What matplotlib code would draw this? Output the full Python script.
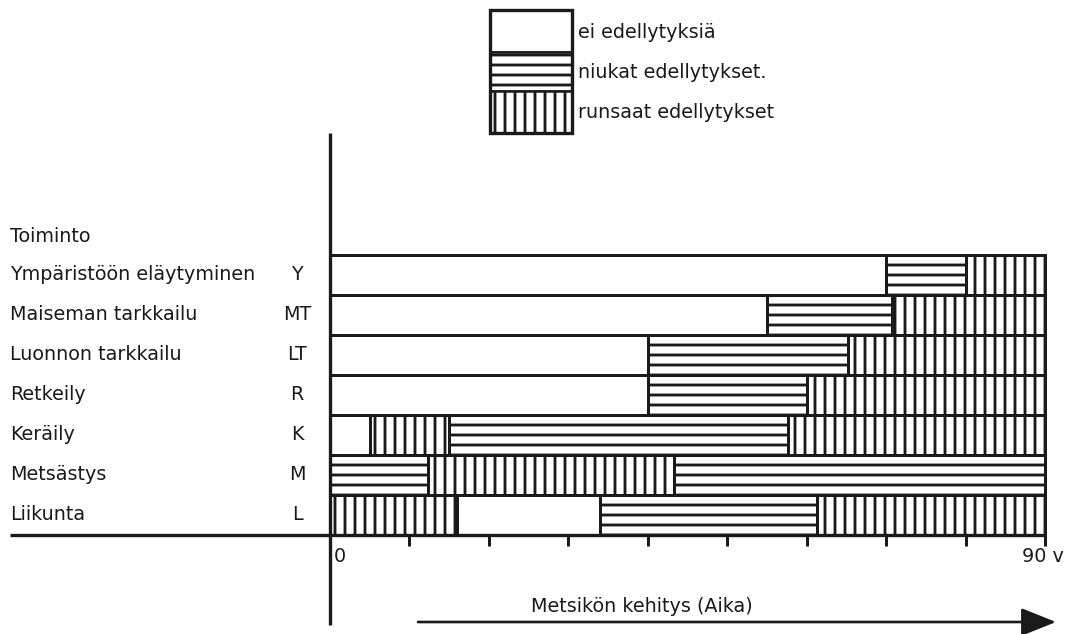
import matplotlib
matplotlib.use("Agg")
import matplotlib.pyplot as plt
from matplotlib.patches import Rectangle

plt.rcParams['font.family'] = ['DejaVu Sans']
plt.rcParams['hatch.linewidth'] = 1.7
plt.rcParams['hatch.color'] = '#1a1a1a'

INK = '#1a1a1a'

# ---------------- data ----------------
activities = ["Liikunta", "Metsästys", "Keräily", "Retkeily",
              "Luonnon tarkkailu", "Maiseman tarkkailu", "Ympäristöön eläytyminen"]
codes = ["L", "M", "K", "R", "LT", "MT", "Y"]

# segment breakpoints (years) and level of each segment
# level 0 = ei edellytyksiä, 1 = niukat, 2 = runsaat
L_breaks = [0, 16, 34, 61.3, 90];   L_levels = [2, 0, 1, 2]
M_breaks = [0, 12.3, 43.3, 90];     M_levels = [1, 2, 1]
K_breaks = [0, 5, 15, 57.7, 90];    K_levels = [0, 2, 1, 2]
R_breaks = [0, 40, 60, 90];         R_levels = [0, 1, 2]
LT_breaks = [0, 40, 65.2, 90];      LT_levels = [0, 1, 2]
MT_breaks = [0, 55, 70.8, 90];      MT_levels = [0, 1, 2]
Y_breaks = [0, 70, 80, 90];         Y_levels = [0, 1, 2]

row_breaks = [L_breaks, M_breaks, K_breaks, R_breaks, LT_breaks, MT_breaks, Y_breaks]
row_levels = [L_levels, M_levels, K_levels, R_levels, LT_levels, MT_levels, Y_levels]

legend_labels = ["ei edellytyksiä", "niukat edellytykset.", "runsaat edellytykset"]
level_hatches = ['', '--', '||']

x_ticks = [10, 20, 30, 40, 50, 60, 70, 80, 90]
x_label_start = "0"
x_label_end = "90 v"
header = "Toiminto"
arrow_label = "Metsikön kehitys (Aika)"

# ---------------- layout ----------------
W, H, DPI = 1067, 634, 120
X0PX, X90PX = 330, 1045
BASEPX = 535
ROWPX = 40
PPY = (X90PX - X0PX) / 90.0


def px2x(px):
    return (px - X0PX) / PPY


def px2y(py):
    return (BASEPX - py) / ROWPX


fig = plt.figure(figsize=(W / DPI, H / DPI), dpi=DPI)
fig.patch.set_facecolor('white')
ax = fig.add_axes([0, 0, 1, 1])
ax.set_xlim(px2x(0), px2x(W))
ax.set_ylim(px2y(H), px2y(0))
ax.axis('off')

FS = 11.5
LW = 1.8

# bars
for i, (br, lv) in enumerate(zip(row_breaks, row_levels)):
    for s, e, l in zip(br[:-1], br[1:], lv):
        ax.barh(i + 0.5, e - s, left=s, height=1.0, color='white',
                edgecolor=INK, linewidth=LW, hatch=level_hatches[l], zorder=2)

# axes lines
ax.plot([px2x(10), 90], [0, 0], color=INK, lw=LW + 0.2, zorder=3, solid_capstyle='butt')
ax.plot([0, 0], [px2y(133), px2y(625)], color=INK, lw=LW + 0.2, zorder=3, solid_capstyle='butt')
ax.vlines(x_ticks, px2y(546), 0, color=INK, lw=LW, zorder=3)

# tick labels
ax.text(px2x(334), px2y(556), x_label_start, ha='left', va='center', fontsize=FS, color=INK)
ax.text(px2x(1064), px2y(556), x_label_end, ha='right', va='center', fontsize=FS, color=INK)

# row labels
for i, (name, code) in enumerate(zip(activities, codes)):
    ax.text(px2x(10), i + 0.5, name, ha='left', va='center', fontsize=FS, color=INK)
    ax.text(px2x(297), i + 0.5, code, ha='center', va='center', fontsize=FS, color=INK)
ax.text(px2x(10), px2y(237), header, ha='left', va='center', fontsize=FS, color=INK)

# time arrow
ax.annotate('', xy=(px2x(1056), px2y(622)), xytext=(px2x(418), px2y(622)),
            arrowprops=dict(arrowstyle='-|>,head_length=2.0,head_width=0.8',
                            lw=1.6, color=INK, mutation_scale=9, shrinkA=0, shrinkB=0))
ax.text(px2x(642), px2y(606), arrow_label, ha='center', va='center', fontsize=FS, color=INK)

# legend
lg_left, lg_right = 490, 572
lg_edges = [10, 52, 91, 133]
lg_text_y = [32, 72, 112]
for k in range(3):
    top, bot = lg_edges[k], lg_edges[k + 1]
    ax.add_patch(Rectangle((px2x(lg_left), px2y(bot)), (lg_right - lg_left) / PPY,
                           (bot - top) / ROWPX, facecolor='white', edgecolor=INK,
                           linewidth=1.5, hatch=level_hatches[k], zorder=2))
    ax.text(px2x(578), px2y(lg_text_y[k]), legend_labels[k], ha='left', va='center',
            fontsize=FS, color=INK)
ax.add_patch(Rectangle((px2x(lg_left), px2y(lg_edges[-1])), (lg_right - lg_left) / PPY,
                       (lg_edges[-1] - lg_edges[0]) / ROWPX, facecolor='none',
                       edgecolor=INK, linewidth=LW + 0.2, zorder=3))

fig.savefig("out.png", dpi=DPI, facecolor='white')
